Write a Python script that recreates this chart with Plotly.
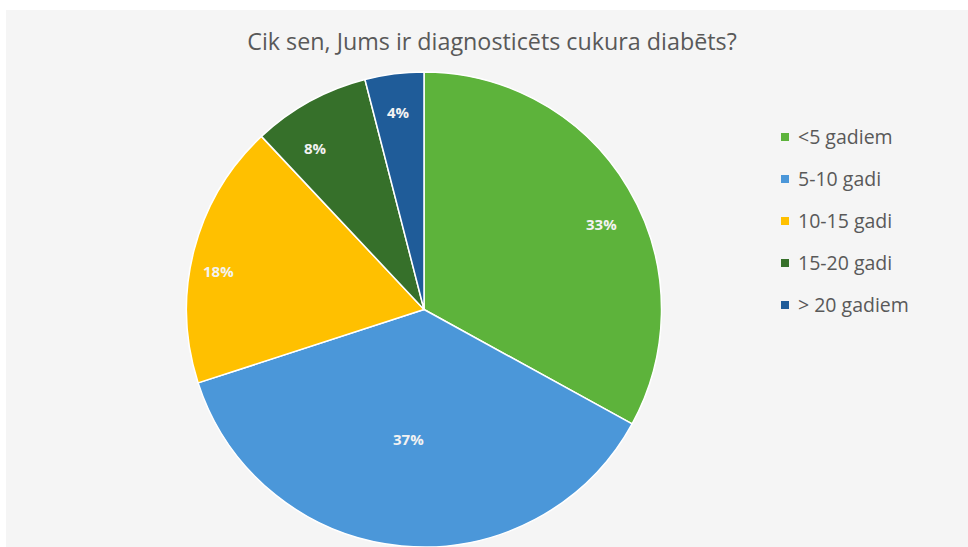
import math
import plotly.graph_objects as go

# Survey answers: how long ago the diabetes diagnosis was made
categories = ["<5 gadiem", "5-10 gadi", "10-15 gadi", "15-20 gadi", "> 20 gadiem"]
shares = [33, 37, 18, 8, 4]
colors = ["#5DB33B", "#4B97D9", "#FFC000", "#36702A", "#1F5C99"]
title_text = "Cik sen, Jums ir diagnosticēts cukura diabēts?"

# Label placement inside each slice: share of the radius, and position
# along the slice's arc (0 = start edge, 1 = end edge)
label_radius = [0.83, 0.55, 0.88, 0.82, 0.84]
label_arc_pos = [0.54, 0.51, 0.44, 0.32, 0.48]

W, H = 968, 547
text_gray = "#595959"
font_family = "Open Sans"

# Pie geometry in pixels (domain box -> centre and radius)
pie_left, pie_right = 186.5, 661.5
pie_top, pie_bottom = 72.0, 547.0
cx = (pie_left + pie_right) / 2
cy = (pie_top + pie_bottom) / 2
radius = min(pie_right - pie_left, pie_bottom - pie_top) / 2

fig = go.Figure()

fig.add_trace(go.Pie(
    labels=categories,
    values=shares,
    sort=False,
    direction="clockwise",
    rotation=0,
    marker=dict(colors=colors, line=dict(color="#FFFFFF", width=1.5)),
    textinfo="none",
    hoverinfo="label+percent",
    showlegend=False,
    domain=dict(x=[pie_left / W, pie_right / W], y=[0, (H - pie_top) / H]),
))

annotations = []

# Percentage labels, placed from the cumulative shares
total = sum(shares)
start = 0.0
for val, rf, af in zip(shares, label_radius, label_arc_pos):
    span = 360.0 * val / total
    theta = math.radians(start + af * span)
    px = cx + rf * radius * math.sin(theta)
    py = cy - rf * radius * math.cos(theta)
    annotations.append(dict(text=f"{val}%", xref="paper", yref="paper",
                            x=px / W, y=1 - py / H, xanchor="center", yanchor="middle",
                            showarrow=False,
                            font=dict(family=font_family, size=15, color="#F2F2F2", weight="bold")))
    start += span

# Custom legend: colour squares with labels on the right
shapes = [
    dict(type="rect", xref="paper", yref="paper", x0=6 / W, x1=1, y0=0, y1=1 - 10 / H,
         fillcolor="#F5F5F5", line=dict(width=0), layer="below"),
]
legend_top = 137
legend_step = 42
for i, (cat, col) in enumerate(zip(categories, colors)):
    yc = legend_top + i * legend_step
    shapes.append(dict(type="rect", xref="paper", yref="paper",
                       x0=781 / W, x1=789 / W,
                       y0=1 - (yc + 4) / H, y1=1 - (yc - 4) / H,
                       fillcolor=col, line=dict(width=0)))
    annotations.append(dict(text=cat, xref="paper", yref="paper",
                            x=796 / W, y=1 - yc / H, xanchor="left", yanchor="middle",
                            showarrow=False,
                            font=dict(family=font_family, size=19.5, color=text_gray)))

fig.update_layout(
    width=W, height=H,
    margin=dict(l=0, r=0, t=0, b=0),
    paper_bgcolor="#FFFFFF",
    plot_bgcolor="#F5F5F5",
    title=dict(text=title_text, x=492 / W, xanchor="center", y=1 - 42 / H, yanchor="middle",
               font=dict(family=font_family, size=23.3, color=text_gray)),
    shapes=shapes,
    annotations=annotations,
)

fig.write_html("out.html")
